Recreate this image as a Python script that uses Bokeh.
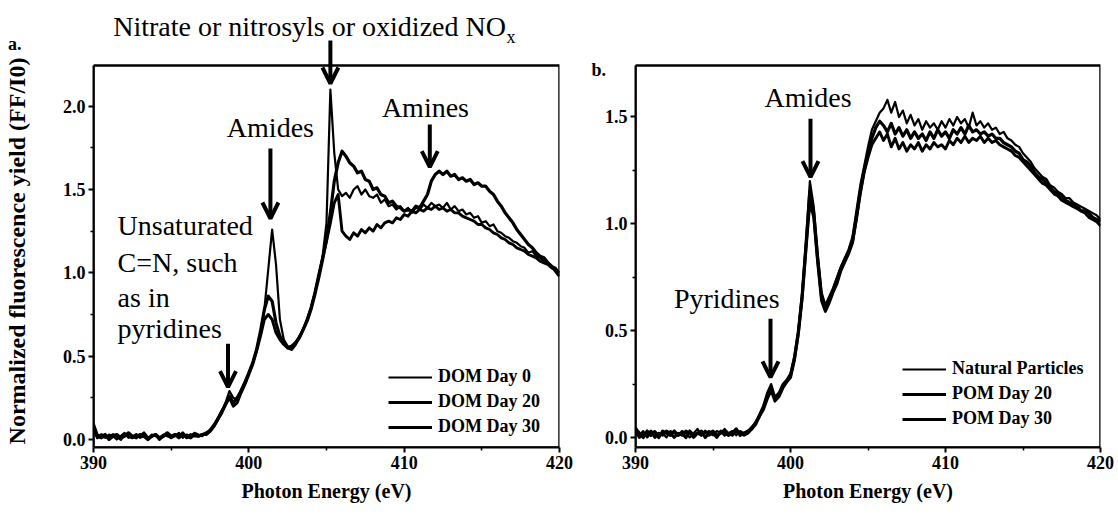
from bokeh.plotting import figure
from bokeh.models import (Range1d, FixedTicker, Label, Arrow, OpenHead, Legend,
                          LegendItem, NumeralTickFormatter, BoxAnnotation)
from bokeh.layouts import row
from bokeh.embed import file_html
from bokeh.resources import INLINE

# N K-edge NEXAFS spectra, sampled every 0.25 eV from 390 to 420 eV
energy = [390 + 0.25 * i for i in range(121)]

dom_day0 = [
    0.10, 0.03, 0.02, 0.01, 0.03, 0.02, 0.00, 0.02, 0.04, 0.01,
    0.02, 0.03, 0.01, 0.02, 0.00, 0.03, 0.02, 0.01, 0.03, 0.02,
    0.01, 0.02, 0.04, 0.01, 0.03, 0.02, 0.04, 0.03, 0.02, 0.04,
    0.06, 0.09, 0.13, 0.17, 0.22, 0.29, 0.25, 0.24, 0.30, 0.35,
    0.40, 0.46, 0.54, 0.64, 0.78, 1.02, 1.26, 1.05, 0.72, 0.60,
    0.56, 0.55, 0.58, 0.62, 0.66, 0.72, 0.79, 0.88, 0.98, 1.10,
    1.30, 2.10, 1.72, 1.50, 1.46, 1.48, 1.45, 1.50, 1.52, 1.47,
    1.50, 1.46, 1.45, 1.47, 1.42, 1.44, 1.40, 1.41, 1.38, 1.40,
    1.37, 1.39, 1.36, 1.39, 1.38, 1.41, 1.39, 1.42, 1.40, 1.41,
    1.39, 1.42, 1.38, 1.40, 1.37, 1.38, 1.35, 1.36, 1.33, 1.34,
    1.30, 1.31, 1.28, 1.29, 1.25, 1.24, 1.22, 1.21, 1.19, 1.18,
    1.16, 1.15, 1.12, 1.13, 1.10, 1.09, 1.07, 1.06, 1.04, 1.03,
    1.00,
]

dom_day20 = [
    0.08, 0.02, 0.01, 0.03, 0.00, 0.02, 0.03, 0.01, 0.02, 0.04,
    0.02, 0.01, 0.03, 0.02, 0.00, 0.02, 0.03, 0.01, 0.02, 0.04,
    0.02, 0.03, 0.01, 0.03, 0.02, 0.01, 0.03, 0.02, 0.03, 0.03,
    0.05, 0.08, 0.12, 0.16, 0.21, 0.26, 0.22, 0.25, 0.29, 0.34,
    0.40, 0.46, 0.54, 0.65, 0.78, 0.86, 0.83, 0.70, 0.62, 0.58,
    0.55, 0.56, 0.58, 0.61, 0.66, 0.71, 0.78, 0.87, 0.97, 1.08,
    1.20, 1.36, 1.55, 1.66, 1.73, 1.70, 1.66, 1.64, 1.60, 1.61,
    1.56, 1.55, 1.50, 1.51, 1.47, 1.46, 1.42, 1.43, 1.40, 1.39,
    1.37, 1.38, 1.37, 1.40, 1.39, 1.43, 1.47, 1.55, 1.59, 1.61,
    1.59, 1.61, 1.58, 1.59, 1.56, 1.57, 1.55, 1.56, 1.53, 1.54,
    1.52, 1.52, 1.49, 1.47, 1.43, 1.40, 1.36, 1.33, 1.30, 1.26,
    1.23, 1.20, 1.17, 1.15, 1.12, 1.10, 1.09, 1.06, 1.04, 1.01,
    0.98,
]

dom_day30 = [
    0.06, 0.01, 0.03, 0.02, 0.01, 0.03, 0.02, 0.00, 0.03, 0.02,
    0.01, 0.03, 0.02, 0.04, 0.01, 0.02, 0.03, 0.00, 0.02, 0.03,
    0.01, 0.03, 0.02, 0.04, 0.01, 0.03, 0.02, 0.02, 0.03, 0.04,
    0.05, 0.08, 0.12, 0.17, 0.21, 0.25, 0.20, 0.22, 0.28, 0.33,
    0.39, 0.45, 0.53, 0.62, 0.72, 0.75, 0.72, 0.64, 0.60, 0.57,
    0.55, 0.54, 0.57, 0.61, 0.66, 0.72, 0.79, 0.88, 0.99, 1.09,
    1.19, 1.30, 1.42, 1.47, 1.25, 1.22, 1.20, 1.24, 1.22, 1.26,
    1.24, 1.27, 1.25, 1.29, 1.27, 1.30, 1.31, 1.30, 1.33, 1.32,
    1.35, 1.34, 1.37, 1.36, 1.38, 1.37, 1.39, 1.38, 1.40, 1.38,
    1.39, 1.37, 1.38, 1.36, 1.36, 1.34, 1.33, 1.32, 1.31, 1.29,
    1.29, 1.27, 1.26, 1.24, 1.23, 1.21, 1.20, 1.18, 1.17, 1.15,
    1.14, 1.13, 1.11, 1.10, 1.09, 1.07, 1.06, 1.05, 1.03, 1.02,
    1.00,
]

natural_particles = [
    0.05, 0.01, 0.03, 0.00, 0.02, 0.03, 0.01, 0.02, 0.00, 0.03,
    0.02, 0.01, 0.03, 0.02, 0.00, 0.02, 0.04, 0.01, 0.02, 0.03,
    0.01, 0.03, 0.02, 0.04, 0.02, 0.03, 0.01, 0.03, 0.02, 0.03,
    0.05, 0.07, 0.11, 0.15, 0.21, 0.25, 0.19, 0.21, 0.25, 0.27,
    0.30, 0.38, 0.50, 0.68, 0.92, 1.20, 1.08, 0.86, 0.68, 0.62,
    0.66, 0.70, 0.75, 0.80, 0.84, 0.88, 0.94, 1.06, 1.18, 1.27,
    1.36, 1.44, 1.48, 1.52, 1.54, 1.58, 1.52, 1.57, 1.50, 1.53,
    1.47, 1.51, 1.46, 1.49, 1.44, 1.48, 1.45, 1.47, 1.44, 1.48,
    1.45, 1.49, 1.46, 1.50, 1.47, 1.49, 1.45, 1.52, 1.46, 1.48,
    1.45, 1.47, 1.44, 1.45, 1.42, 1.43, 1.40, 1.39, 1.37, 1.36,
    1.33, 1.31, 1.29, 1.26, 1.24, 1.22, 1.21, 1.18, 1.17, 1.15,
    1.14, 1.12, 1.12, 1.10, 1.09, 1.08, 1.07, 1.06, 1.05, 1.04,
    1.02,
]

pom_day20 = [
    0.04, 0.02, 0.00, 0.03, 0.01, 0.02, 0.00, 0.03, 0.02, 0.01,
    0.03, 0.01, 0.02, 0.00, 0.03, 0.01, 0.02, 0.03, 0.00, 0.02,
    0.03, 0.01, 0.02, 0.03, 0.01, 0.02, 0.04, 0.01, 0.02, 0.03,
    0.04, 0.07, 0.10, 0.14, 0.19, 0.23, 0.18, 0.20, 0.24, 0.26,
    0.29, 0.37, 0.49, 0.66, 0.90, 1.15, 1.05, 0.84, 0.66, 0.60,
    0.64, 0.69, 0.74, 0.79, 0.83, 0.87, 0.92, 1.03, 1.15, 1.25,
    1.33, 1.40, 1.45, 1.48, 1.46, 1.43, 1.47, 1.42, 1.45, 1.41,
    1.44, 1.40, 1.43, 1.40, 1.42, 1.39, 1.43, 1.40, 1.44, 1.41,
    1.43, 1.40, 1.44, 1.42, 1.45, 1.42, 1.46, 1.43, 1.44, 1.42,
    1.43, 1.41, 1.42, 1.40, 1.40, 1.38, 1.37, 1.36, 1.34, 1.33,
    1.30, 1.29, 1.27, 1.24, 1.22, 1.21, 1.19, 1.17, 1.15, 1.14,
    1.13, 1.11, 1.10, 1.09, 1.08, 1.06, 1.06, 1.05, 1.03, 1.02,
    1.01,
]

pom_day30 = [
    0.03, 0.00, 0.02, 0.01, 0.03, 0.00, 0.02, 0.01, 0.03, 0.02,
    0.00, 0.02, 0.01, 0.03, 0.02, 0.00, 0.02, 0.01, 0.03, 0.01,
    0.02, 0.00, 0.03, 0.01, 0.02, 0.01, 0.03, 0.02, 0.01, 0.02,
    0.04, 0.06, 0.10, 0.13, 0.18, 0.22, 0.17, 0.19, 0.23, 0.26,
    0.28, 0.36, 0.48, 0.65, 0.88, 1.10, 1.03, 0.82, 0.64, 0.59,
    0.63, 0.68, 0.72, 0.78, 0.82, 0.86, 0.91, 1.02, 1.14, 1.24,
    1.31, 1.37, 1.40, 1.43, 1.39, 1.42, 1.36, 1.40, 1.35, 1.38,
    1.34, 1.37, 1.35, 1.38, 1.34, 1.37, 1.35, 1.38, 1.36, 1.37,
    1.35, 1.39, 1.37, 1.40, 1.38, 1.41, 1.38, 1.40, 1.39, 1.41,
    1.38, 1.40, 1.38, 1.39, 1.37, 1.36, 1.35, 1.34, 1.32, 1.31,
    1.29, 1.27, 1.25, 1.23, 1.21, 1.19, 1.18, 1.16, 1.14, 1.13,
    1.11, 1.10, 1.09, 1.08, 1.07, 1.06, 1.05, 1.03, 1.02, 1.01,
    0.99,
]

left_names = ["DOM Day 0", "DOM Day 20", "DOM Day 30"]
right_names = ["Natural Particles", "POM Day 20", "POM Day 30"]
x_ticks = [390, 400, 410, 420]
x_minor = [395, 405, 415]
left_y_ticks = [0.0, 0.5, 1.0, 1.5, 2.0]
right_y_ticks = [0.0, 0.5, 1.0, 1.5]

SERIF = "Liberation Serif"
widths = [2.2, 3.2, 2.9]


def make_panel(width, border_left, border_right, y_view, box_top, y_ticks):
    """One spectrum panel. The drawing area runs to the top of the canvas so the
    headline arrows stay visible; the boxed plot spans y_view[0]..box_top."""
    p = figure(width=width, height=515, output_backend="svg", toolbar_location=None,
               title=None, x_range=Range1d(390, 420), y_range=Range1d(*y_view),
               min_border_left=border_left, min_border_right=border_right,
               min_border_top=0, min_border_bottom=68)
    p.grid.visible = False
    p.background_fill_color = "white"
    p.border_fill_color = "white"
    p.outline_line_color = None
    p.add_layout(BoxAnnotation(left=390, right=420, bottom=y_view[0], top=box_top,
                               fill_color=None, line_color="black", line_alpha=1.0,
                               line_width=2.5))
    p.yaxis.bounds = (y_view[0], box_top)
    minors_y = [t + 0.25 for t in y_ticks if t + 0.25 < box_top]
    p.xaxis.ticker = FixedTicker(ticks=x_ticks, minor_ticks=x_minor)
    p.yaxis.ticker = FixedTicker(ticks=y_ticks, minor_ticks=minors_y)
    p.yaxis.formatter = NumeralTickFormatter(format="0.0")
    for ax in (p.xaxis, p.yaxis):
        ax.axis_line_width = 2
        ax.major_tick_line_width = 2
        ax.minor_tick_line_width = 1.5
        ax.major_tick_out = 5
        ax.major_tick_in = 0
        ax.minor_tick_out = 3
        ax.minor_tick_in = 0
        ax.major_label_text_font = SERIF
        ax.major_label_text_font_style = "bold"
        ax.major_label_text_font_size = "18px"
        ax.major_label_text_color = "black"
        ax.major_label_standoff = 3
        ax.axis_label_text_font = SERIF
        ax.axis_label_text_font_style = "bold"
        ax.axis_label_text_color = "black"
    p.xaxis.axis_label = "Photon Energy (eV)"
    p.xaxis.axis_label_text_font_size = "20px"
    p.xaxis.axis_label_standoff = 8
    return p


def add_curves(p, series, names, legend_xy):
    items = []
    for vals, name, lw in zip(series, names, widths):
        r = p.line(energy, vals, line_color="black", line_width=lw, line_join="round")
        items.append(LegendItem(label=name, renderers=[r]))
    legend = Legend(items=items, location=legend_xy, glyph_width=44, glyph_height=20,
                    label_height=20, spacing=4, padding=0, margin=0, label_standoff=6,
                    border_line_alpha=0, background_fill_alpha=0,
                    label_text_font=SERIF, label_text_font_style="bold",
                    label_text_font_size="18px", label_text_color="black")
    p.add_layout(legend)


def note(p, x, y, text, size="28px", style="normal", align="center", side="center"):
    p.add_layout(Label(x=x, y=y, text=text, text_font=SERIF, text_font_size=size,
                       text_font_style=style, text_align=align,
                       text_baseline="middle", text_color="black"), side)


def pointer(p, x, y0, y1):
    p.add_layout(Arrow(x_start=x, y_start=y0, x_end=x, y_end=y1, line_width=4,
                       line_color="black",
                       end=OpenHead(size=16, line_width=4, line_color="black")))


# Panel a: dissolved organic matter
pa = make_panel(583, 93, 24, (-0.048, 2.634), 2.244, left_y_ticks)
# the axis label is centred on the whole drawing area, which reaches the canvas top;
# trailing no-break spaces move the words down onto the boxed part
pa.yaxis.axis_label = "Normalized fluorescence yield (FF/I0)" + "\u00a0" * 9
pa.yaxis.axis_label_text_font_size = "24px"
pa.yaxis.axis_label_standoff = 30
add_curves(pa, [dom_day0, dom_day20, dom_day30], left_names, (295, 10))
note(pa, 384.5, 2.376, "a.", size="18px", style="bold", align="left", side="right")
note(pa, 391.27, 2.478, "Nitrate or nitrosyls or oxidized NO", align="left")
note(pa, 416.59, 2.418, "x", size="18px", align="left")
pointer(pa, 405.25, 2.394, 2.136)
note(pa, 401.39, 1.872, "Amides")
pointer(pa, 401.39, 1.746, 1.326)
note(pa, 411.37, 1.994, "Amines")
pointer(pa, 411.65, 1.89, 1.634)
for txt, yv in [("Unsaturated", 1.284), ("C=N, such", 1.065), ("as in", 0.852),
                ("pyridines", 0.666)]:
    note(pa, 391.55, yv, txt, align="left")
pointer(pa, 398.66, 0.574, 0.314)

# Panel b: particulate organic matter
pb = make_panel(535, 52, 18, (-0.047, 2.045), 1.741, right_y_ticks)
add_curves(pb, [natural_particles, pom_day20, pom_day30], right_names, (267, 18))
note(pb, 387.16, 1.722, "b.", size="18px", style="bold", align="left", side="right")
note(pb, 401.13, 1.590, "Amides")
pointer(pb, 401.29, 1.491, 1.218)
note(pb, 395.89, 0.648, "Pyridines")
pointer(pb, 398.71, 0.555, 0.281)

layout = row(pa, pb)
open("out.html", "w").write(file_html(layout, INLINE))
